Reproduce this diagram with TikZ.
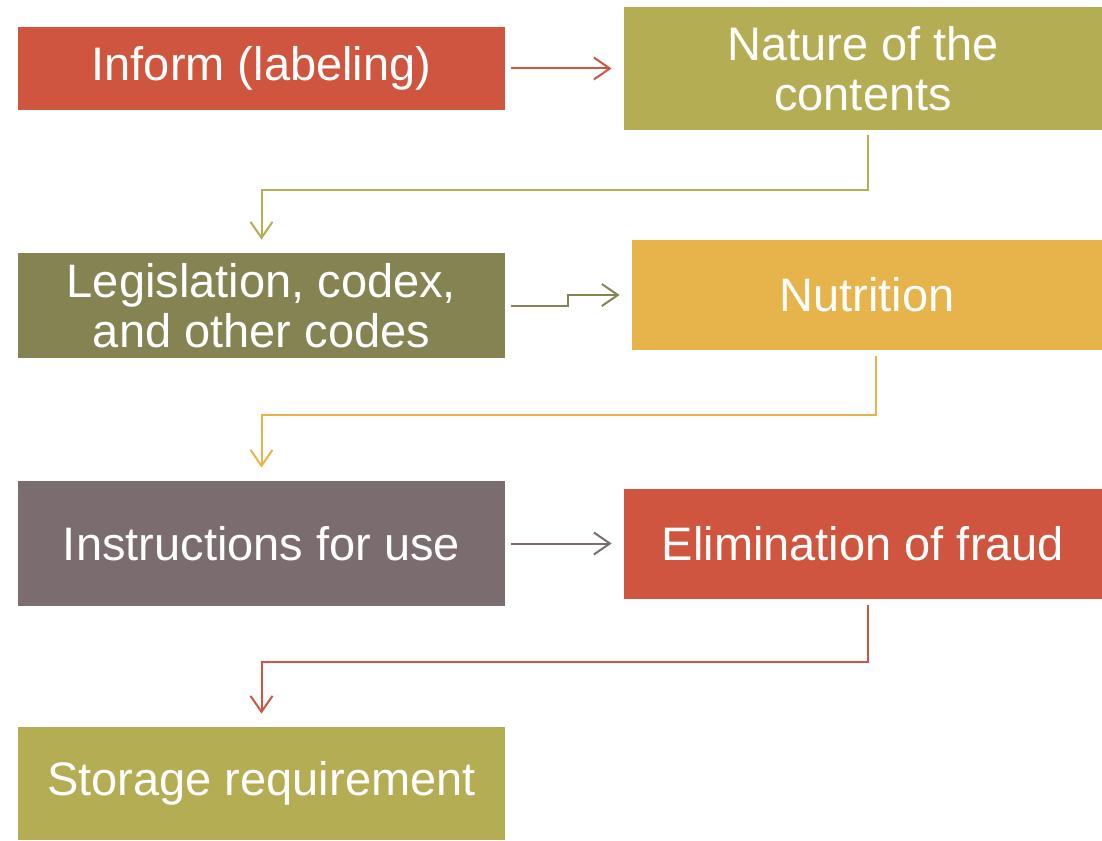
\documentclass[tikz,border=0pt]{standalone}
\usepackage{fontspec}
\setmainfont{Liberation Sans}
\usetikzlibrary{arrows.meta}
\definecolor{brick}{HTML}{D0553F}
\definecolor{olive}{HTML}{B5AD53}
\definecolor{darkolive}{HTML}{868353}
\definecolor{gold}{HTML}{E6B44B}
\definecolor{mauve}{HTML}{7A6C6F}

\begin{document}
\begin{tikzpicture}[x=0.5pt,y=-0.5pt,
  box/.style={fill=#1,text=white,align=center,inner sep=0pt,
    font=\fontsize{23.5}{25}\selectfont},
  link/.style={draw=#1,line width=1pt,-{Straight Barb[length=8pt,width=11pt]}}]
  \useasboundingbox (0,0) rectangle (1102,840);

  \node [box=brick,minimum width=243.5pt,minimum height=41.5pt] (inform) at (261.5,68.5) {Inform (labeling)};
  \node [box=olive,minimum width=239pt,minimum height=61.5pt] (nature) at (863,68.5) {Nature of the\\contents};
  \node [box=darkolive,minimum width=243.5pt,minimum height=52.5pt] (legis) at (261.5,305.5) {Legislation, codex,\\and other codes};
  \node [box=gold,minimum width=235pt,minimum height=55pt] (nutri) at (867,295) {Nutrition};
  \node [box=mauve,minimum width=243.5pt,minimum height=62.5pt] (instr) at (261.5,543.5) {Instructions for use};
  \node [box=brick,minimum width=239pt,minimum height=55pt] (fraud) at (863,544) {Elimination of fraud};
  \node [box=olive,minimum width=243.5pt,minimum height=56.5pt] (storage) at (261.5,783.5) {Storage requirement};

  \draw [link=brick] ([xshift=3pt]inform.east) -- ([xshift=-6pt]nature.west |- inform.east);
  \draw [link=olive] ([xshift=2.5pt,yshift=-2.5pt]nature.south) |- ([yshift=31.5pt]legis.north) -- ([yshift=6.5pt]legis.north);
  \draw [link=darkolive] ([xshift=3pt]legis.east) -- ++(57,0) |- ([xshift=-6pt]nutri.west);
  \draw [link=gold] ([xshift=4.5pt,yshift=-3pt]nutri.south) |- ([yshift=33pt]instr.north) -- ([yshift=6.5pt]instr.north);
  \draw [link=mauve] ([xshift=3pt]instr.east) -- ([xshift=-6pt]fraud.west |- instr.east);
  \draw [link=brick] ([xshift=2.5pt,yshift=-3pt]fraud.south) |- ([yshift=32.5pt]storage.north) -- ([yshift=6.5pt]storage.north);
\end{tikzpicture}
\end{document}
